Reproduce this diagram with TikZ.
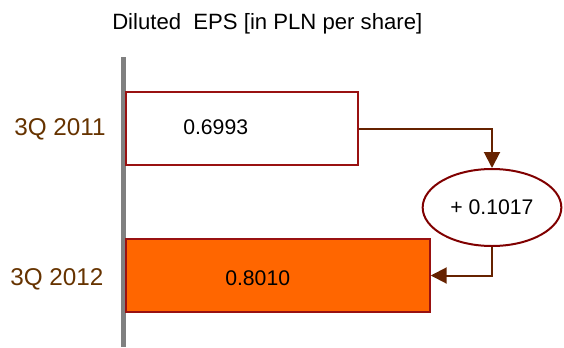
\documentclass[tikz,border=0pt]{standalone}
\usepackage{fontspec}
\setmainfont{Liberation Sans}
\usetikzlibrary{arrows.meta,positioning,shapes.geometric}

\definecolor{barred}{RGB}{153,17,17}
\definecolor{ovalred}{RGB}{128,0,0}
\definecolor{flowbrown}{RGB}{102,34,0}
\definecolor{yearbrown}{RGB}{102,51,0}
\definecolor{barorange}{RGB}{255,102,0}
\definecolor{axisgray}{RGB}{128,128,128}

\begin{document}
\begin{tikzpicture}[x=0.75pt, y=-0.75pt, >=Latex]

\tikzset{
  bar/.style={
    rectangle, draw=barred, line width=1.1pt,
    minimum height=55pt, inner sep=0pt
  },
  value/.style={inner sep=0pt, anchor=base west, font=\fontsize{15.9}{18}\selectfont},
  year/.style={inner sep=0pt, anchor=base west, text=yearbrown, font=\fontsize{18.2}{21}\selectfont},
  delta/.style={
    ellipse, draw=ovalred, line width=1.5pt, fill=white,
    minimum width=104pt, minimum height=57.75pt, inner sep=0pt
  },
  arrow/.style={->, flowbrown, line width=1.5pt,
    arrows={-Triangle[length=12pt, width=12pt]}}
}

\useasboundingbox (0,0) rectangle (564,347);

% ==========================
% Title and axis
% ==========================
\node[inner sep=0pt, anchor=base west, font=\fontsize{16.6}{19}\selectfont] (title) at (112,29)
{Diluted\ \ EPS [in PLN per share]};

\coordinate (axistop) at (123.5,57);
\coordinate (axisbot) at (123.5,347);
\draw[axisgray, line width=3.75pt] (axistop) -- (axisbot);

% ==========================
% Bars
% ==========================
\node[bar, fill=white, minimum width=174pt] (bar11) at (242,128.5) {};
\node[bar, fill=barorange, minimum width=228pt] (bar12) at (278,275.5) {};

\node[value] (val11) at (183,134) {0.6993};
\node[value] (val12) at (225,285) {0.8010};

\node[year] (yr11) at (14,135) {3Q 2011};
\node[year] (yr12) at (10,285) {3Q 2012};

% ==========================
% Change between the years
% ==========================
\node[delta, font=\fontsize{15.9}{18}\selectfont] (change) at (492,207.5) {+ 0.1017};

\draw[arrow] (bar11.east) -| (change.north);
\draw[arrow] (change.south) |- (bar12.east);

\end{tikzpicture}
\end{document}
